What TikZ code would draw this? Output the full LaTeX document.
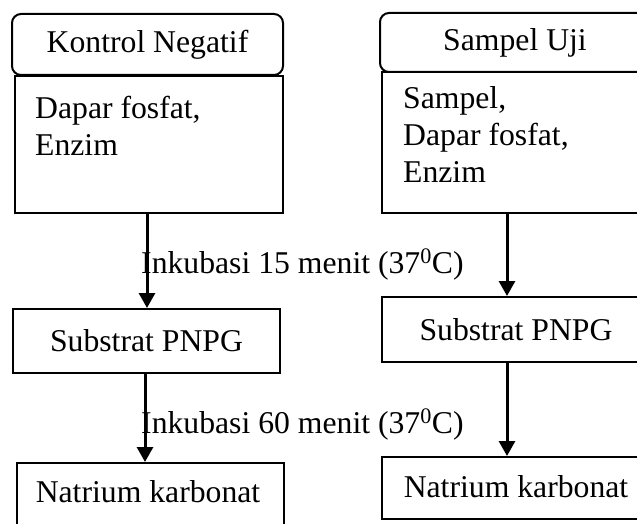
\documentclass[tikz,border=0pt]{standalone}
\usepackage{fontspec}
\setmainfont{Liberation Serif}
\usetikzlibrary{arrows.meta,calc}
\begin{document}
\begin{tikzpicture}[x=1pt,y=-1pt,
  every node/.style={font=\fontsize{31.7}{37}\selectfont},
  box/.style={draw=black,line width=2pt,rectangle,inner sep=0pt,minimum width=#1},
  hdr/.style={draw=black,line width=2pt,rectangle,rounded corners=9pt,inner sep=0pt,minimum width=#1,minimum height=61pt},
  txt/.style={inner sep=0pt},
  flow/.style={line width=3pt,-{Triangle[width=16pt,length=15pt]}}]
\useasboundingbox (0,0) rectangle (637,524);
\clip (0,0) rectangle (637,524);
% left column
\node[hdr=271] (lhead) at (147.5,44.5) {Kontrol Negatif};
\node[box=268,minimum height=137pt] (lbody) at (149,144.5) {};
\node[txt,anchor=north west,align=left] (ltext) at (35,96) {Dapar fosfat,\\Enzim};
\node[box=267,minimum height=64pt] (lsub) at (146.5,341) {Substrat PNPG};
\node[box=267,minimum height=97pt] (lnat) at (150.5,511.5) {};
\node[txt,anchor=base] (lnattxt) at (148,502) {Natrium karbonat};
% right column
\node[hdr=270,minimum height=59pt] (rhead) at (515,42.5) {Sampel Uji};
\node[box=268,minimum height=141pt] (rbody) at (516,142.5) {};
\node[txt,anchor=north west,align=left] (rtext) at (403,86) {Sampel,\\Dapar fosfat,\\Enzim};
\node[box=268,minimum height=65pt] (rsub) at (516,329.5) {Substrat PNPG};
\node[box=268,minimum height=62pt] (rnat) at (516,488) {};
\node[txt,anchor=base] (rnattxt) at (516,497) {Natrium karbonat};
% arrow positions
\coordinate (lx1) at (147,0);
\coordinate (lx2) at (145,0);
\coordinate (rx) at (507,0);
\draw[flow] (lbody.south -| lx1) -- (lsub.north -| lx1);
\draw[flow] (lsub.south -| lx2) -- (lnat.north -| lx2);
\draw[flow] (rbody.south -| rx) -- (rsub.north -| rx);
\draw[flow] (rsub.south -| rx) -- (rnat.north -| rx);
% labels
\node[txt,anchor=base west] (lab1) at (141,273) {Inkubasi 15 menit (37\textsuperscript{0}C)};
\node[txt,anchor=base west] (lab2) at (141,433) {Inkubasi 60 menit (37\textsuperscript{0}C)};
\end{tikzpicture}
\end{document}
